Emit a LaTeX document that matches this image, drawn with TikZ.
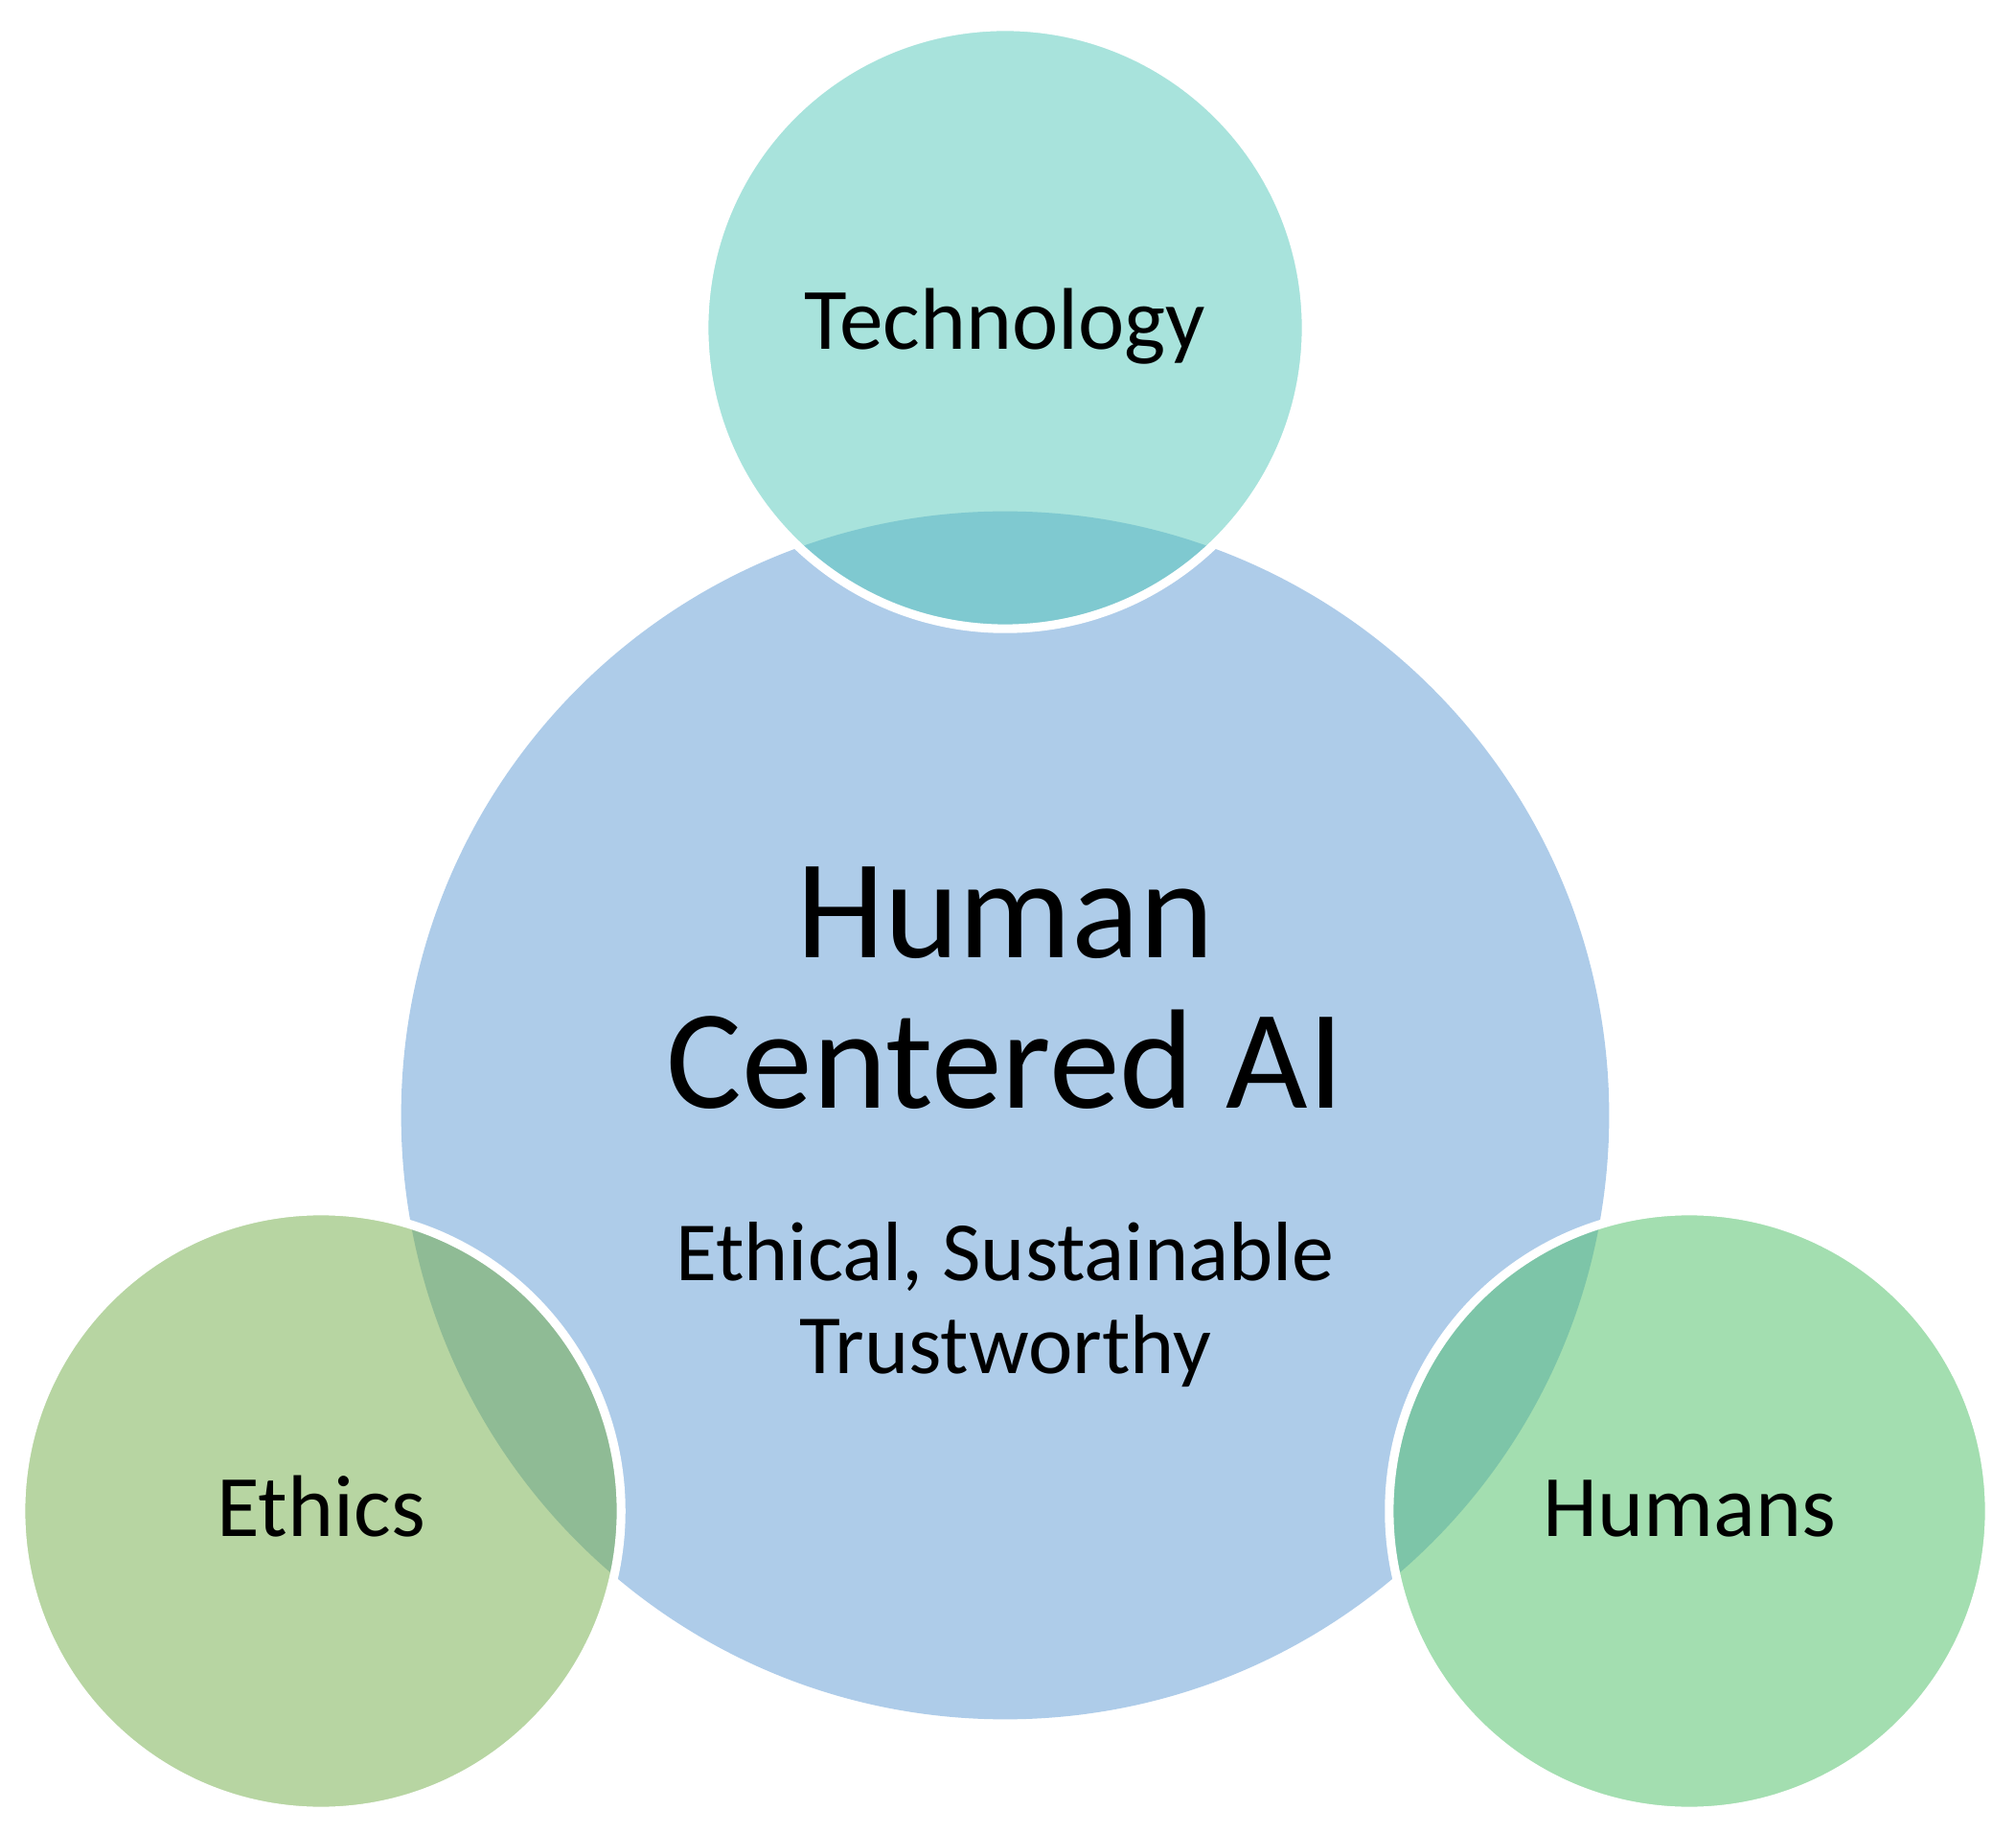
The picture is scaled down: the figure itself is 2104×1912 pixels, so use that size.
\documentclass[tikz,border=0pt]{standalone}
\usepackage{fontspec}
\setmainfont{Carlito}
\definecolor{bigblue}{HTML}{AECCE9}
\definecolor{techfill}{HTML}{A8E3DC}
\definecolor{techover}{HTML}{7FC9D0}
\definecolor{ethfill}{HTML}{B7D5A2}
\definecolor{ethover}{HTML}{8FBB95}
\definecolor{humfill}{HTML}{A3DEB0}
\definecolor{humover}{HTML}{7DC5A8}
\begin{document}
\begin{tikzpicture}[x=0.01cm,y=0.01cm,
  lbl/.style={inner sep=0pt,anchor=base,text=black},
  bigtxt/.style={lbl,font=\fontsize{42}{46}\selectfont},
  midtxt/.style={lbl,font=\fontsize{25}{28}\selectfont},
  smalltxt/.style={lbl,font=\fontsize{26}{30}\selectfont},
  ring/.style={draw=white,line width=2.6pt}]
\useasboundingbox (0,0) rectangle (2104,1912);
\coordinate (cBig) at (1049,748);
\coordinate (cTech) at (1049,1570);
\coordinate (cEth) at (335,335);
\coordinate (cHum) at (1763,335);
% big circle
\fill[bigblue] (cBig) circle[radius=6.30cm];
% technology
\fill[techfill] (cTech) circle[radius=3.14cm];
\begin{scope}
  \clip (cBig) circle[radius=6.30cm];
  \fill[techover] (cTech) circle[radius=3.14cm];
\end{scope}
\draw[ring] (cTech) circle[radius=3.14cm];
% ethics
\fill[ethfill] (cEth) circle[radius=3.13cm];
\begin{scope}
  \clip (cBig) circle[radius=6.30cm];
  \fill[ethover] (cEth) circle[radius=3.13cm];
\end{scope}
\draw[ring] (cEth) circle[radius=3.13cm];
% humans
\fill[humfill] (cHum) circle[radius=3.13cm];
\begin{scope}
  \clip (cBig) circle[radius=6.30cm];
  \fill[humover] (cHum) circle[radius=3.13cm];
\end{scope}
\draw[ring] (cHum) circle[radius=3.13cm];
% texts
\node[bigtxt] (human) at (1049,912) {Human};
\node[bigtxt] (centered) at (1049,755) {Centered AI};
\node[midtxt] (ethical) at (1049,575) {Ethical, Sustainable};
\node[midtxt] (trust) at (1049,479) {Trustworthy};
\node[smalltxt] (tech) at (1049,1547) {Technology};
\node[smalltxt] (ethics) at (335,309) {Ethics};
\node[smalltxt] (humans) at (1763,309) {Humans};
\end{tikzpicture}
\end{document}
